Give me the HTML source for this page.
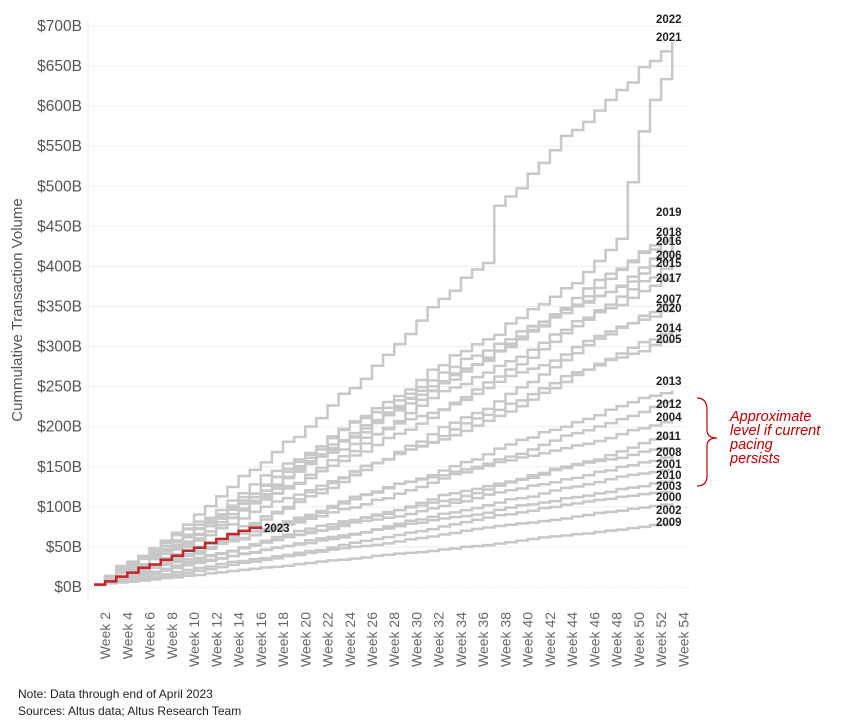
<!DOCTYPE html><html><head><meta charset="utf-8"><style>
body{margin:0;background:#fff;font-family:"Liberation Sans",Arial,sans-serif}
</style></head><body>
<svg id="s" width="842" height="722" xmlns="http://www.w3.org/2000/svg" font-family="Liberation Sans, Arial, sans-serif">
<g id="grid"></g><g id="lines" fill="none" stroke="#c8c8c8" stroke-width="2.5"></g><g id="labs"></g>
<text x="22" y="310" transform="rotate(-90 22 310)" text-anchor="middle" font-size="15" fill="#555">Cummulative Transaction Volume</text>
<path d="M697 398 Q707 398 707 410 L707 430 Q707 438 717 438 Q707 438 707 446 L707 476 Q707 486 697 486" stroke="#c00000" stroke-width="1.2" fill="none"/>
<text font-size="14.5" fill="#c00000" font-style="italic"><tspan x="730" y="421">Approximate</tspan><tspan x="730" y="435">level if current</tspan><tspan x="730" y="449">pacing</tspan><tspan x="730" y="463">persists</tspan></text>
<text x="18" y="698" font-size="12" fill="#222">Note: Data through end of April 2023</text>
<text x="18" y="715" font-size="12" fill="#222">Sources: Altus data; Altus Research Team</text>
</svg>
<script>
const NS="http://www.w3.org/2000/svg";
function Y(v){return 587-v*0.8014}
function X(w){return 94+(w-1)*11.12}
const g=document.getElementById('grid'),L=document.getElementById('lines'),lb=document.getElementById('labs');
function el(t,a,p,txt){const e=document.createElementNS(NS,t);for(const k in a)e.setAttribute(k,a[k]);if(txt)e.textContent=txt;p.appendChild(e);return e}
for(let v=0;v<=700;v+=50){el('line',{x1:88,x2:690,y1:Y(v),y2:Y(v),stroke:v?'#eeeeee':'#dddddd','stroke-dasharray':v?'':'1 2'},g);
el('text',{x:82,y:Y(v)+5,'text-anchor':'end','font-size':15.5,fill:'#555'},g,'$'+v+'B')}
el('line',{x1:88,x2:88,y1:20,y2:600,stroke:'#eee'},g);
for(let w=2;w<=54;w+=2){const x=X(w)+5;el('text',{x:x,y:612,transform:`rotate(-90 ${x} 612)`,'text-anchor':'end','font-size':14,fill:'#666'},g,'Week '+w)}
let seed=7;function r(){seed=(seed*16807)%2147483647;return seed/2147483647}
const S=[["2022",680,19,1.25],["2021",672,37,1.15],["2019",440,212,1],["2018",440,232,1],["2016",430,241,1],["2006",415,255,1],["2015",405,263,1],["2017",390,278,1],["2007",360,299,1],["2020",350,308,1],["2014",325,328,1],["2005",310,339,1],["2013",245,381,1],["2012",235,404,1],["2004",210,417,1],["2011",190,436,1],["2008",175,452,1],["2001",165,464,1],["2010",150,475,1],["2003",135,486,1],["2000",120,497,1],["2002",105,510,1],["2009",80,522,1]];
S.forEach(s=>{const fin=s[1];let inc=[];let tot=0;for(let w=0;w<52;w++){let base=1+(s[3]-1)*w/26;let v=base*(0.5+r());inc.push(v);tot+=v}
if(s[0]=="2022"){inc[35]+=tot*0.1;tot*=1.1}
if(s[0]=="2021"){for(let w=47;w<52;w++){inc[w]*=5;}tot=inc.reduce((a,b)=>a+b)}
let c=3,x=X(1),d=`M${x},${Y(c)}`;for(let w=0;w<52;w++){c+=inc[w]/tot*(fin-3);d+=` H${X(w+2)} V${Y(c)}`}
el('path',{d:d},L);
el('text',{x:656,y:s[2]+4,'font-size':11.5,'font-weight':'bold',fill:'#222'},lb,s[0])});
let c=3,d=`M${X(1)},${Y(c)}`;const inc=[4,6,5,6,4,6,5,6,4,6,5,6,4,4,2];for(let w=0;w<15;w++){c+=inc[w];d+=` H${X(w+2)} V${Y(c)}`}d+=` H${X(16)}`;
el('path',{d:d,stroke:'#c0282d','stroke-width':2.5,fill:'none'},document.getElementById('s'));
el('text',{x:264,y:532,'font-size':11.5,'font-weight':'bold',fill:'#222'},lb,'2023');
</script></body></html>
